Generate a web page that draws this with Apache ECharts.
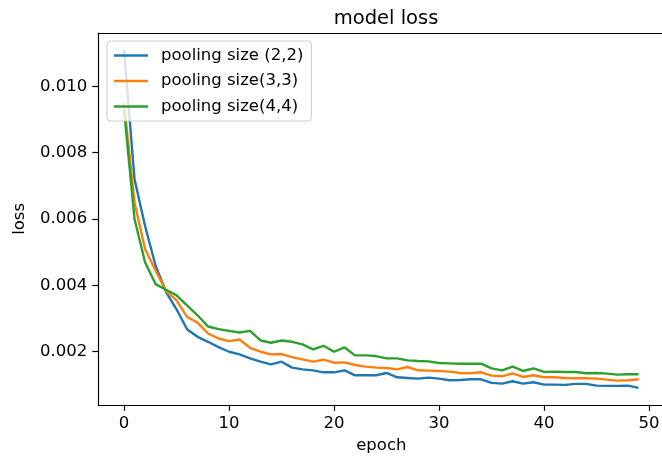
<!DOCTYPE html>
<html>
<head>
<meta charset="utf-8">
<script src="https://cdn.jsdelivr.net/npm/echarts@6/dist/echarts.min.js"></script>
<style>html,body{margin:0;padding:0;background:#fff;overflow:hidden;}#c{width:662px;height:459px;}</style>
</head>
<body>
<div id="c"></div>
<script>
const epochs = Array.from({length: 50}, (_, i) => i);
const seriesNames = ['pooling size (2,2)', 'pooling size(3,3)', 'pooling size(4,4)'];
const loss22 = [0.0111,0.0072,0.0058,0.0046,0.0038,0.00328,0.00268,0.00245,0.0023,0.00214,
  0.0020,0.00192,0.0018,0.0017,0.00162,0.0017,0.00152,0.00147,0.00144,0.00138,
  0.00138,0.00144,0.00129,0.00129,0.00129,0.00136,0.00123,0.00121,0.00119,0.00122,
  0.00119,0.00114,0.00115,0.00117,0.00117,0.00106,0.00104,0.00111,0.00104,0.00108,
  0.00101,0.00101,0.0010,0.00103,0.00103,0.00098,0.00097,0.00097,0.00098,0.00091];
const loss33 = [0.0095,0.0065,0.0051,0.00445,0.00383,0.00355,0.00305,0.00288,0.00255,0.0024,
  0.00232,0.00237,0.00212,0.0020,0.00192,0.00193,0.00184,0.00177,0.0017,0.00176,
  0.00167,0.00168,0.0016,0.00155,0.00152,0.00151,0.00147,0.00154,0.00144,0.00143,
  0.00142,0.0014,0.00136,0.00135,0.00138,0.00128,0.00126,0.00135,0.00124,0.00129,
  0.00123,0.00123,0.00121,0.0012,0.0012,0.00119,0.00116,0.00113,0.00114,0.00117];
const loss44 = [0.0093,0.0060,0.0047,0.00404,0.00387,0.0037,0.0034,0.0031,0.00276,0.00268,
  0.00263,0.00258,0.00263,0.00234,0.00227,0.00234,0.0023,0.00222,0.00207,0.00218,
  0.0020,0.00213,0.00189,0.00189,0.00187,0.0018,0.0018,0.00174,0.00172,0.00171,
  0.00166,0.00165,0.00164,0.00164,0.00164,0.0015,0.00144,0.00155,0.00142,0.0015,
  0.00139,0.0014,0.00139,0.00139,0.00135,0.00136,0.00134,0.00131,0.00132,0.00132];
const xTicks = [0, 10, 20, 30, 40, 50];
const yTicks = [0.002, 0.004, 0.006, 0.008, 0.010];
const colors = ['#1f77b4', '#ff7f0e', '#2ca02c'];

const allData = [loss22, loss33, loss44];
const flat = allData.flat();
const yMinD = Math.min(...flat), yMaxD = Math.max(...flat);
const yPad = (yMaxD - yMinD) * 0.05;
const xPad = (epochs[epochs.length - 1] - epochs[0]) * 0.05;
const xMin = epochs[0] - xPad, xMax = epochs[epochs.length - 1] + xPad;

const FONT = 'DejaVu Sans';
const axisLineStyle = {color: '#000', width: 1.2};
const chart = echarts.init(document.getElementById('c'), null, {renderer: 'canvas'});
chart.setOption({
  animation: false,
  backgroundColor: '#fff',
  color: colors,
  title: {
    text: 'model loss',
    left: 381,
    textAlign: 'center',
    top: 4,
    textStyle: {fontFamily: FONT, fontSize: 19.5, fontWeight: 'normal', color: '#000'}
  },
  legend: {
    orient: 'vertical',
    left: 107,
    top: 41,
    padding: [6, 8, 6, 7],
    itemWidth: 34,
    itemHeight: 2.5,
    itemGap: 8.5,
    icon: 'rect',
    borderColor: '#cccccc',
    borderWidth: 1,
    borderRadius: 3,
    backgroundColor: 'rgba(255,255,255,0.8)',
    textStyle: {fontFamily: FONT, fontSize: 16.5, color: '#000', lineHeight: 17, padding: [0, 0, 0, 8]},
    data: seriesNames
  },
  grid: {
    left: 98.3, top: 33, width: 566, bottom: 54.2,
    show: false,
    containLabel: false,
    outerBoundsMode: 'none'
  },
  graphic: [{
    type: 'rect',
    shape: {x: 658, y: 34.5, width: 6, height: 369},
    style: {fill: '#fff'},
    silent: true,
    z: 100
  }],
  xAxis: [{
    type: 'value',
    min: xMin,
    max: xMax,
    position: 'bottom',
    name: 'epoch',
    nameLocation: 'middle',
    nameGap: 32,
    nameTextStyle: {fontFamily: FONT, fontSize: 16.5, color: '#000'},
    splitLine: {show: false},
    axisLine: {show: true, onZero: false, lineStyle: axisLineStyle},
    axisTick: {show: true, length: 6, lineStyle: axisLineStyle, customValues: xTicks},
    axisLabel: {fontFamily: FONT, fontSize: 16.5, color: '#000', margin: 10, customValues: xTicks,
      formatter: v => String(v)}
  }, {
    type: 'value',
    min: xMin,
    max: xMax,
    position: 'top',
    splitLine: {show: false},
    axisLine: {show: true, onZero: false, lineStyle: axisLineStyle},
    axisTick: {show: false},
    axisLabel: {show: false}
  }],
  yAxis: {
    type: 'value',
    min: yMinD - yPad,
    max: yMaxD + yPad,
    name: 'loss',
    nameLocation: 'middle',
    nameGap: 70,
    nameTextStyle: {fontFamily: FONT, fontSize: 16.5, color: '#000'},
    splitLine: {show: false},
    axisLine: {show: true, onZero: false, lineStyle: axisLineStyle},
    axisTick: {show: true, length: 6, lineStyle: axisLineStyle, customValues: yTicks},
    axisLabel: {fontFamily: FONT, fontSize: 16.5, color: '#000', margin: 11, customValues: yTicks,
      formatter: v => v.toFixed(3)}
  },
  series: allData.map((d, i) => ({
    name: seriesNames[i],
    type: 'line',
    xAxisIndex: 0,
    data: d.map((v, j) => [epochs[j], v]),
    symbol: 'none',
    lineStyle: {width: 2.4, color: colors[i]},
    itemStyle: {color: colors[i]},
    clip: true
  }))
});
</script>
</body>
</html>
